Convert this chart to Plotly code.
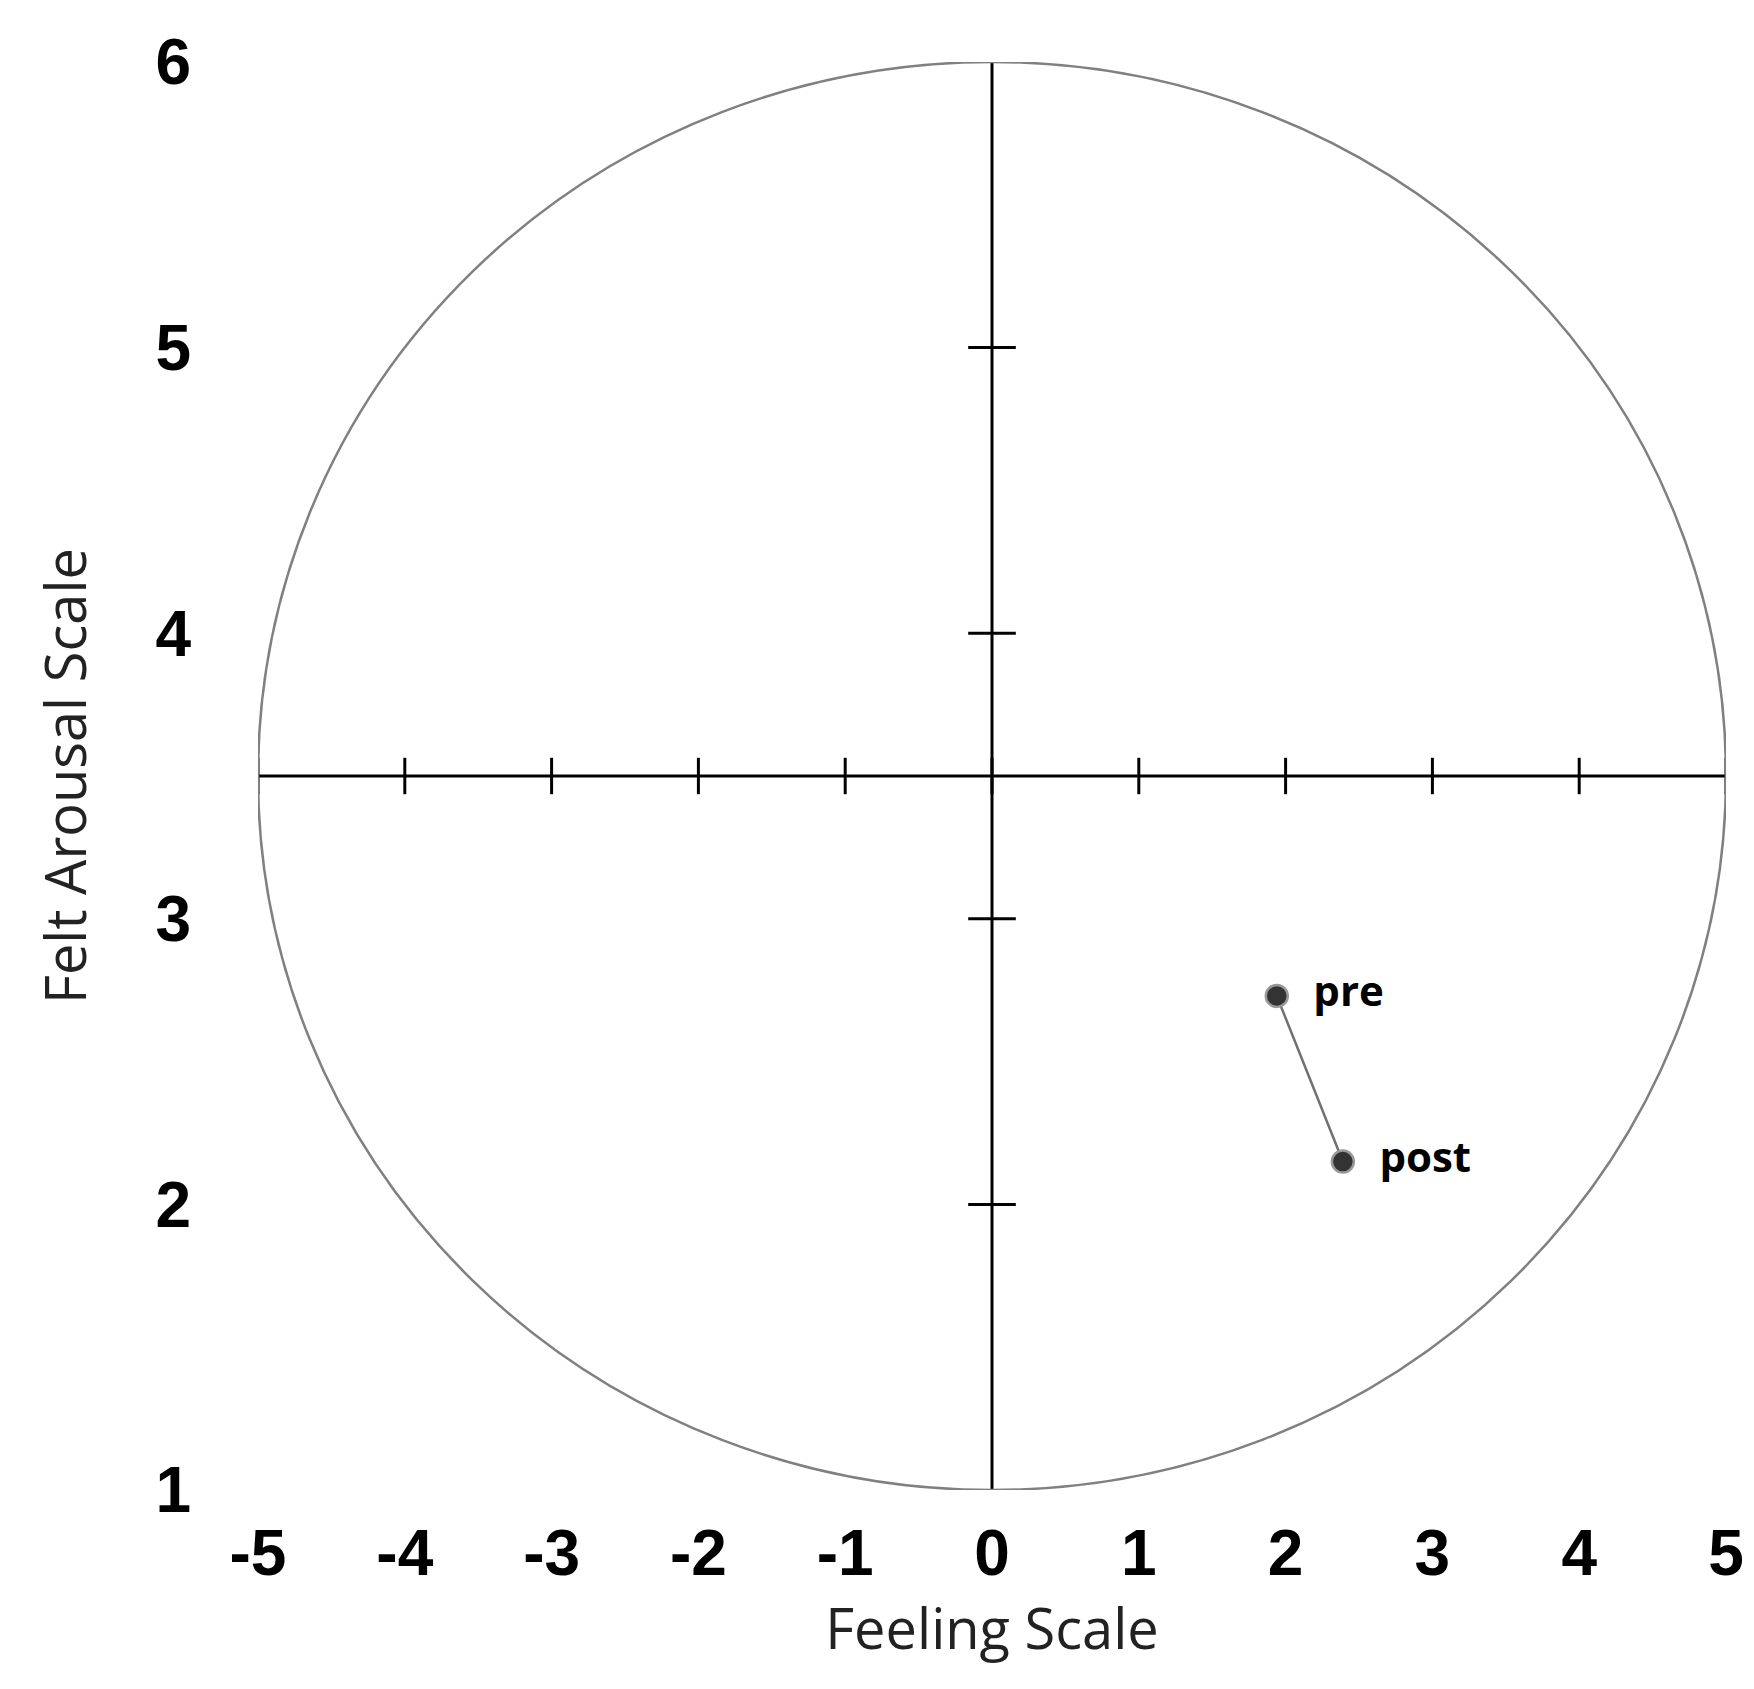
import plotly.graph_objects as go

# feeling scale (x) and felt arousal (y) ticks
x_ticks = [-5, -4, -3, -2, -1, 0, 1, 2, 3, 4, 5]
x_tick_text = ["-5", "-4", "-3", "-2", "-1", "0", "1", "2", "3", "4", "5"]
y_ticks = [1, 2, 3, 4, 5, 6]
axis_y = 3.5  # where the horizontal axis crosses

# means
labels = ["pre", "post"]
fs_vals = [1.94, 2.39]
fa_vals = [2.73, 2.15]

fig = go.Figure()

# circle around the grid
fig.add_shape(type="circle", xref="x", yref="y", x0=-5, x1=5, y0=1, y1=6,
              line=dict(color="#808080", width=2.5))

# cross axes
fig.add_trace(go.Scatter(x=[-5, 5], y=[axis_y, axis_y], mode="lines",
                         line=dict(color="black", width=3), hoverinfo="skip"))
fig.add_trace(go.Scatter(x=[0, 0], y=[1, 6], mode="lines",
                         line=dict(color="black", width=3), hoverinfo="skip"))

# tick marks on the cross
fig.add_trace(go.Scatter(x=x_ticks, y=[axis_y] * len(x_ticks), mode="markers",
                         marker=dict(symbol="line-ns", size=26, line=dict(color="black", width=3)),
                         hoverinfo="skip"))
fig.add_trace(go.Scatter(x=[0] * 4, y=y_ticks[1:5], mode="markers",
                         marker=dict(symbol="line-ew", size=34, line=dict(color="black", width=3)),
                         hoverinfo="skip"))

# pre -> post
fig.add_trace(go.Scatter(x=fs_vals, y=fa_vals, mode="lines+markers+text",
                         text=["  " + t for t in labels], textposition="middle right",
                         textfont=dict(family="Open Sans", size=42, color="black", weight="bold"),
                         line=dict(color="#707070", width=2.5),
                         marker=dict(size=22, color="#333333", line=dict(color="#999999", width=2.5))))

tick_font = dict(family="Liberation Sans", size=64, color="black", weight="bold")
fig.update_xaxes(range=[-5, 5], tickvals=x_ticks, ticktext=x_tick_text, showgrid=False, zeroline=False,
                 showline=False, tickfont=tick_font, ticklabelstandoff=20,
                 title=dict(text="Feeling Scale", font=dict(family="Open Sans", size=56, color="#222222"),
                            standoff=10))
fig.update_yaxes(range=[1, 6], tickvals=y_ticks, showgrid=False, zeroline=False,
                 showline=False, tickfont=tick_font, ticklabelstandoff=66,
                 title=dict(text="Felt Arousal Scale", font=dict(family="Open Sans", size=56, color="#222222"),
                            standoff=50))

fig.update_layout(width=1754, height=1689, showlegend=False,
                  plot_bgcolor="white", paper_bgcolor="white",
                  margin=dict(l=250, r=36, t=54, b=207))

fig.write_html("out.html")
